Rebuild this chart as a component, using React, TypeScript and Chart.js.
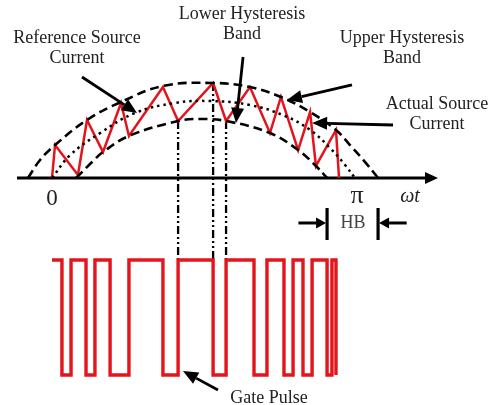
import React, { useEffect, useRef } from "react";
import { Chart, registerables } from "chart.js";

Chart.register(...registerables);

// ωt in degrees (0 … π = 180), current in per-unit of reference peak
const upperBandX = [-14.3, -7.1, 1.8, 20.8, 41.0, 65.9, 95.1, 117.6, 136.0, 153.3, 168.7, 177.0, 186.0, 193.7];
const upperBandY = [0, 0.237, 0.434, 0.763, 1.0, 1.211, 1.25, 1.197, 1.066, 0.868, 0.632, 0.434, 0.21, 0];

const lowerBandX = [14.3, 23.8, 30.3, 45.7, 74.9, 87.9, 103.4, 129.5, 146.2, 156.8, 163.4];
const lowerBandY = [0, 0.21, 0.342, 0.553, 0.75, 0.776, 0.75, 0.592, 0.368, 0.158, 0];

const referenceX = [0, 10.7, 28.5, 49.3, 73.1, 93.9, 117.6, 138.4, 153.3, 165.2, 174.1, 180];
const referenceY = [0, 0.30, 0.59, 0.855, 0.987, 1.013, 0.96, 0.816, 0.632, 0.395, 0.171, 0];

const actualX = [0, 1.8, 15.4, 20.8, 30.3, 41.0, 45.7, 65.9, 74.9, 95.7, 103.4, 117.6, 129.5, 136.0, 146.2, 153.3, 156.8, 168.7, 170.5];
const actualY = [0, 0.434, 0.039, 0.763, 0.342, 0.987, 0.553, 1.197, 0.75, 1.25, 0.75, 1.197, 0.592, 1.066, 0.368, 0.868, 0.158, 0.632, 0];

const gateTimes = [0, 5.9, 11.3, 20.2, 25.5, 34.5, 45.7, 65.9, 74.9, 95.7, 103.4, 120.0, 127.7, 137.8, 143.2, 149.1, 154.5, 163.4, 166.3, 168.7];
const gateLevels = [1, 0, 1, 0, 1, 0, 1, 0, 1, 0, 1, 0, 1, 0, 1, 0, 1, 0, 1, 0];

const markerTimes = [74.9, 95.7, 103.4];

const axisRange = [-20.8, 229.3];

const arrowTailX = [17.8, 113.5, 178.2, 202.6, 98.6];
const arrowTailY = [1.329, 1.592, 1.224, 0.697, -2.789];
const arrowTipX = [50.5, 109.3, 139.6, 154.5, 77.8];
const arrowTipY = [0.855, 0.724, 1.026, 0.724, -2.539];

const hbBarsX = [163.4, 193.7];
const hbBarY = [-0.395, -0.816];
const hbArrowY = -0.592;
const hbArrowLen = 17;

const RED = "#e3141b";

function zip(xs: number[], ys: number[]) {
  return xs.map((x, i) => ({ x, y: ys[i] }));
}

function drawArrow(ctx: CanvasRenderingContext2D, x1: number, y1: number, x2: number, y2: number, len: number, half: number, lw: number) {
  const a = Math.atan2(y2 - y1, x2 - x1);
  const bx = x2 - len * Math.cos(a);
  const by = y2 - len * Math.sin(a);
  ctx.lineWidth = lw;
  ctx.beginPath();
  ctx.moveTo(x1, y1);
  ctx.lineTo(bx, by);
  ctx.stroke();
  ctx.beginPath();
  ctx.moveTo(x2, y2);
  ctx.lineTo(bx + half * Math.sin(a), by - half * Math.cos(a));
  ctx.lineTo(bx - half * Math.sin(a), by + half * Math.cos(a));
  ctx.closePath();
  ctx.fill();
}

const annotPlugin = {
  id: "annot",
  beforeDatasetsDraw(chart: any) {
    const ctx: CanvasRenderingContext2D = chart.ctx;
    const xs = chart.scales.x, ys = chart.scales.y, y2 = chart.scales.y2;
    ctx.save();
    ctx.strokeStyle = "#000";
    ctx.fillStyle = "#000";
    drawArrow(ctx, xs.getPixelForValue(axisRange[0]), ys.getPixelForValue(0), xs.getPixelForValue(axisRange[1]), ys.getPixelForValue(0), 13, 6, 3);
    ctx.setLineDash([8, 3, 2, 3, 2, 3]);
    ctx.lineWidth = 2.3;
    markerTimes.forEach((t) => {
      const i = actualX.indexOf(t);
      const px = xs.getPixelForValue(t);
      ctx.beginPath();
      ctx.moveTo(px, ys.getPixelForValue(actualY[i]));
      ctx.lineTo(px, y2.getPixelForValue(1));
      ctx.stroke();
    });
    ctx.restore();
  },
  afterDatasetsDraw(chart: any) {
    const ctx: CanvasRenderingContext2D = chart.ctx;
    const xs = chart.scales.x, ys = chart.scales.y;
    ctx.save();
    ctx.strokeStyle = "#000";
    ctx.fillStyle = "#000";
    arrowTailX.forEach((_, i) => {
      drawArrow(ctx, xs.getPixelForValue(arrowTailX[i]), ys.getPixelForValue(arrowTailY[i]), xs.getPixelForValue(arrowTipX[i]), ys.getPixelForValue(arrowTipY[i]), 15, 6.5, 2.8);
    });
    ctx.lineWidth = 3.2;
    hbBarsX.forEach((bx) => {
      const px = xs.getPixelForValue(bx);
      ctx.beginPath();
      ctx.moveTo(px, ys.getPixelForValue(hbBarY[0]));
      ctx.lineTo(px, ys.getPixelForValue(hbBarY[1]));
      ctx.stroke();
    });
    const yy = ys.getPixelForValue(hbArrowY);
    drawArrow(ctx, xs.getPixelForValue(hbBarsX[0] - hbArrowLen), yy, xs.getPixelForValue(hbBarsX[0]) - 1, yy, 10, 5.5, 3);
    drawArrow(ctx, xs.getPixelForValue(hbBarsX[1] + hbArrowLen), yy, xs.getPixelForValue(hbBarsX[1]) + 1, yy, 10, 5.5, 3);
    ctx.restore();
  },
};

const serif = '"Liberation Serif", "Times New Roman", serif';

function Label({ x, y, lines, size = 18, color = "#222", italic = false }: { x: number; y: number; lines: string[]; size?: number; color?: string; italic?: boolean }) {
  return (
    <div
      style={{
        position: "absolute",
        left: x,
        top: y - 10,
        transform: "translateX(-50%)",
        textAlign: "center",
        whiteSpace: "nowrap",
        fontFamily: serif,
        fontSize: size,
        lineHeight: "20px",
        color,
        fontStyle: italic ? "italic" : "normal",
      }}
    >
      {lines.map((l, i) => (
        <div key={i}>{l}</div>
      ))}
    </div>
  );
}

export default function App() {
  const ref = useRef<HTMLCanvasElement>(null);
  useEffect(() => {
    if (!ref.current) return;
    const band = { borderColor: "#000", borderWidth: 2.6, borderDash: [9, 5], pointRadius: 0, showLine: true, tension: 0.4, fill: false };
    const chart = new Chart(ref.current, {
      type: "scatter",
      data: {
        datasets: [
          { ...band, label: "Upper Hysteresis Band", data: zip(upperBandX, upperBandY) },
          { ...band, label: "Lower Hysteresis Band", data: zip(lowerBandX, lowerBandY) },
          { label: "Reference Source Current", data: zip(referenceX, referenceY), borderColor: "#000", borderWidth: 2.5, borderDash: [2.5, 4], pointRadius: 0, showLine: true, tension: 0.4 },
          { label: "Actual Source Current", data: zip(actualX, actualY), borderColor: RED, borderWidth: 2.5, pointRadius: 0, showLine: true, tension: 0 },
          { label: "Gate Pulse", data: zip(gateTimes, gateLevels), yAxisID: "y2", borderColor: RED, borderWidth: 3.4, pointRadius: 0, showLine: true, stepped: true, borderJoinStyle: "miter" as const },
        ],
      },
      options: {
        animation: false,
        responsive: false,
        events: [],
        layout: { padding: 0 },
        plugins: { legend: { display: false }, tooltip: { enabled: false } },
        scales: {
          x: { type: "linear", min: -30.9, max: 259.6, display: false },
          y: { type: "linear", min: -2.987, max: 2.342, display: false },
          y2: { type: "linear", min: -0.261, max: 3.261, display: false },
        },
      },
      plugins: [annotPlugin],
    });
    return () => chart.destroy();
  }, []);
  return (
    <div style={{ position: "fixed", left: 0, top: 0, width: 489, height: 405, background: "#fff", overflow: "hidden" }}>
      <canvas ref={ref} width={489} height={405} style={{ position: "absolute", left: 0, top: 0, display: "block" }} />
      <Label x={77} y={37} lines={["Reference Source", "Current"]} />
      <Label x={242} y={13} lines={["Lower Hysteresis", "Band"]} />
      <Label x={402} y={37} lines={["Upper Hysteresis", "Band"]} />
      <Label x={437} y={103} lines={["Actual Source", "Current"]} />
      <Label x={269} y={397} lines={["Gate Pulse"]} />
      <Label x={52} y={198} lines={["0"]} size={23} />
      <Label x={357} y={195} lines={["π"]} size={26} />
      <Label x={410} y={195} lines={["ωt"]} size={20} italic />
      <Label x={353} y={222} lines={["HB"]} size={18} color="#444" />
    </div>
  );
}
